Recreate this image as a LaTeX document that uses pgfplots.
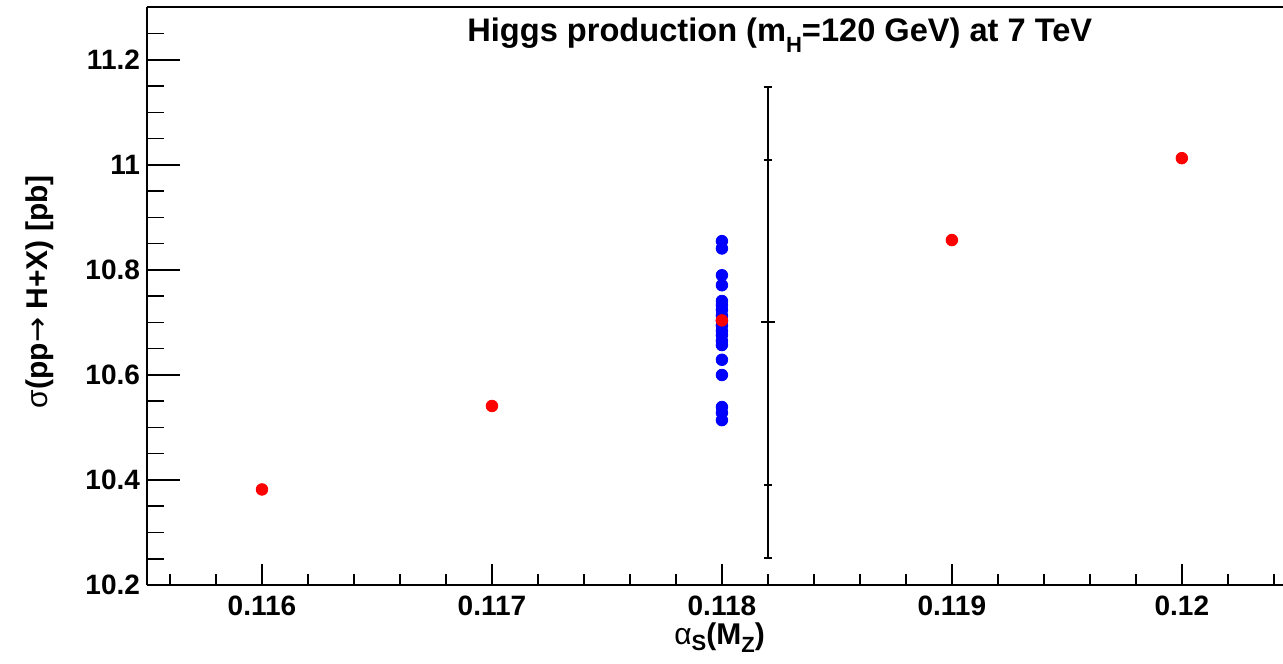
\documentclass[border=0pt]{standalone}
\usepackage{fontspec}
\setmainfont{Liberation Sans}
\newfontfamily\arrowfont{DejaVu Sans}
\usepackage{pgfplots}
\pgfplotsset{compat=1.18}

\definecolor{rootred}{RGB}{255,0,0}
\definecolor{rootblue}{RGB}{0,0,255}

% central value for each alpha_s(M_Z)
\pgfplotstableread{
as      sigma
0.116   10.382
0.117   10.541
0.118   10.704
0.119   10.857
0.120   11.013
}\centraltab

% PDF replica members at alpha_s(M_Z)=0.118
\pgfplotstableread{
as      sigma
0.118   10.855
0.118   10.841
0.118   10.790
0.118   10.771
0.118   10.741
0.118   10.733
0.118   10.724
0.118   10.713
0.118   10.703
0.118   10.694
0.118   10.684
0.118   10.676
0.118   10.665
0.118   10.657
0.118   10.629
0.118   10.600
0.118   10.539
0.118   10.528
0.118   10.514
}\memberstab

\begin{document}
\begin{tikzpicture}
\begin{axis}[
  scale only axis,
  width=568pt, height=288.75pt,
  xmin=0.1155, xmax=0.12044,
  ymin=10.2, ymax=11.3,
  axis y line*=left,
  axis x line*=box,
  xtick pos=left,
  ytick pos=left,
  axis line style={line width=1pt, black},
  xtick={0.116,0.117,0.118,0.119,0.120},
  minor xtick={0.1156,0.1158,0.1162,0.1164,0.1166,0.1168,0.1172,0.1174,0.1176,0.1178,
               0.1182,0.1184,0.1186,0.1188,0.1192,0.1194,0.1196,0.1198,0.1202,0.1204},
  ytick={10.2,10.4,10.6,10.8,11,11.2},
  minor ytick={10.25,10.3,10.35,10.45,10.5,10.55,10.65,10.7,10.75,10.85,10.9,10.95,
               11.05,11.1,11.15,11.25},
  scaled x ticks=false,
  scaled y ticks=false,
  xticklabel style={/pgf/number format/precision=3, yshift=-2pt},
  tick align=inside,
  major x tick style={line width=0.75pt, black, /pgfplots/major tick length=10.5pt},
  minor x tick style={line width=0.75pt, black, /pgfplots/minor tick length=5.5pt},
  major y tick style={line width=0.75pt, black, /pgfplots/major tick length=16.5pt},
  minor y tick style={line width=0.75pt, black, /pgfplots/minor tick length=8.5pt},
  /pgf/number format/assume math mode=true,
  tick label style={font=\fontsize{14}{16}\selectfont\bfseries},
  xlabel={{\mdseries α}\raisebox{-0.4ex}{\fontsize{11}{12}\selectfont S}(M\raisebox{-0.5ex}{\fontsize{11}{12}\selectfont Z})},
  ylabel={{\mdseries σ}(pp{\arrowfont\mdseries →} H+X) [pb]},
  every axis x label/.style={at={(axis description cs:0.504,-0.091)}, anchor=center,
    font=\fontsize{15}{17}\selectfont\bfseries},
  every axis y label/.style={at={(axis description cs:-0.094,0.508)}, anchor=center, rotate=90,
    font=\fontsize{15}{17}\selectfont\bfseries},
  clip=false,
]
\coordinate (ll) at (rel axis cs:0,0);

\addplot[only marks, mark=*, mark size=2.9pt, color=rootblue] table[x=as, y=sigma] {\memberstab};
\addplot[only marks, mark=*, mark size=2.9pt, color=rootred] table[x=as, y=sigma] {\centraltab};

% total band and inner band at alpha_s = 0.1182
\addplot[black, line width=1pt, mark=-, mark size=3.5pt,
  error bars/.cd, y dir=both, y explicit,
  error bar style={line width=1pt, black},
  error mark options={rotate=90, mark size=2pt, line width=1pt, black}]
  coordinates {(0.1182,10.700) +- (0,0.449)};
\addplot[black, line width=1pt, draw=none, mark=none,
  error bars/.cd, y dir=both, y explicit,
  error bar style={line width=1pt, black},
  error mark options={rotate=90, mark size=2pt, line width=1pt, black}]
  coordinates {(0.1182,10.700) +- (0,0.310)};

\node[font=\fontsize{16.3}{18}\selectfont\bfseries, anchor=center]
  at (rel axis cs:0.557,0.952) {Higgs production (m\raisebox{-0.6ex}{\fontsize{11}{12}\selectfont H}=120 GeV) at 7 TeV};
\end{axis}
\pgfresetboundingbox
\path[use as bounding box] ([shift={(-73.5pt,-39pt)}]ll) rectangle ([shift={(568pt,292.5pt)}]ll);
\end{tikzpicture}
\end{document}
